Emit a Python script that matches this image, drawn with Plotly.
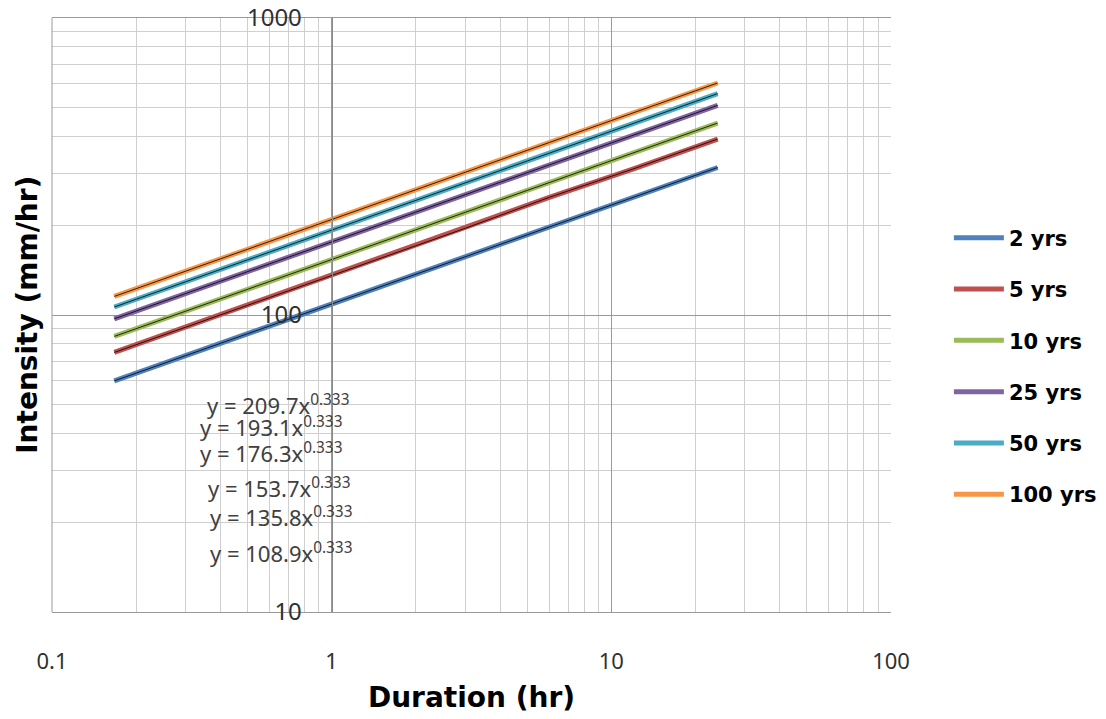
import plotly.graph_objects as go

durations = [0.167, 0.25, 0.5, 1, 2, 3, 6, 12, 24]
series_names = ["2 yrs", "5 yrs", "10 yrs", "25 yrs", "50 yrs", "100 yrs"]
i_2yr = [60.0, 68.6, 86.5, 108.9, 137.2, 157.0, 197.8, 249.1, 313.8]
i_5yr = [74.8, 85.6, 107.8, 135.8, 171.1, 195.8, 249.0, 310.6, 391.3]
i_10yr = [84.7, 96.9, 122.0, 153.7, 193.6, 221.6, 279.1, 351.6, 442.9]
i_25yr = [97.1, 111.1, 140.0, 176.3, 222.1, 254.2, 320.2, 403.3, 508.0]
i_50yr = [106.4, 121.7, 153.3, 193.1, 243.2, 278.4, 350.7, 441.7, 556.4]
i_100yr = [115.5, 132.2, 166.5, 209.7, 264.1, 302.3, 380.8, 479.7, 604.2]
equations = ["y = 209.7x<sup>0.333</sup>", "y = 193.1x<sup>0.333</sup>",
             "y = 176.3x<sup>0.333</sup>", "y = 153.7x<sup>0.333</sup>",
             "y = 135.8x<sup>0.333</sup>", "y = 108.9x<sup>0.333</sup>"]
x_ticks = [0.1, 1, 10, 100]
x_tick_labels = ["0.1", "1", "10", "100"]
y_ticks = [10, 100, 1000]
y_tick_labels = ["10", "100", "1000"]

colors = ["#4F81BD", "#C0504D", "#9BBB59", "#8064A2", "#4BACC6", "#F79646"]
all_series = [i_2yr, i_5yr, i_10yr, i_25yr, i_50yr, i_100yr]

fig = go.Figure()
for name, vals, col in zip(series_names, all_series, colors):
    fig.add_trace(go.Scatter(x=durations, y=vals, mode="lines", name=name,
                             line=dict(color=col, width=5), legendgroup=name))
for name, vals in zip(series_names, all_series):
    fig.add_trace(go.Scatter(x=durations, y=vals, mode="lines", showlegend=False,
                             line=dict(color="black", width=0.8), hoverinfo="skip"))

# equation labels (paper positions)
eq_pos = [(0.182, 0.349), (0.174, 0.312), (0.174, 0.269), (0.184, 0.210), (0.186, 0.160), (0.186, 0.101)]
for txt, (px, py) in zip(equations, eq_pos):
    fig.add_annotation(text=txt, x=px, y=py, xref="paper", yref="paper",
                       xanchor="left", yanchor="middle", showarrow=False,
                       font=dict(family="Noto Sans", size=22, color="#404040"))

bold_font = dict(family="DejaVu Sans", size=28, color="black", weight="bold")

fig.update_layout(
    width=1098, height=711,
    margin=dict(l=44, r=215, t=10, b=107, autoexpand=False),
    plot_bgcolor="white", paper_bgcolor="white",
    showlegend=True,
    legend=dict(x=1.069, y=0.414, xanchor="left", yanchor="middle",
                font=dict(family="DejaVu Sans", size=21, color="black", weight="bold"),
                tracegroupgap=21, bgcolor="rgba(0,0,0,0)", itemwidth=50),
    xaxis=dict(type="log", range=[-1, 2], tickvals=x_ticks, ticktext=x_tick_labels,
               showgrid=True, gridcolor="#9A9A9A", gridwidth=1,
               minor=dict(dtick="D1", showgrid=True, gridcolor="#CFCFCF", ticks=""),
               showline=True, linecolor="#9A9A9A", mirror=True, ticks="",
               zeroline=False, ticklabelstandoff=30, automargin=False,
               tickfont=dict(family="Noto Sans", size=22, color="#303030"),
               title=dict(text="Duration (hr)", font=bold_font, standoff=12)),
    yaxis=dict(type="log", range=[1, 3], tickvals=y_ticks, ticktext=y_tick_labels,
               showgrid=True, gridcolor="#9A9A9A", gridwidth=1,
               minor=dict(dtick="D1", showgrid=True, gridcolor="#CFCFCF", ticks=""),
               showline=True, linecolor="#8A8A8A", ticks="", automargin=False,
               anchor="free", position=1/3, zeroline=False, ticklabelstandoff=25,
               ticklabeloverflow="allow",
               tickfont=dict(family="Noto Sans", size=24, color="#303030")),
)
fig.add_annotation(text="Intensity (mm/hr)", x=-0.030, y=0.50, xref="paper", yref="paper",
                   textangle=-90, showarrow=False, font=bold_font,
                   xanchor="center", yanchor="middle")
# left frame border
fig.add_shape(type="line", xref="paper", yref="paper", x0=0, x1=0, y0=0, y1=1,
              line=dict(color="#9A9A9A", width=1))

fig.write_html("out.html")
